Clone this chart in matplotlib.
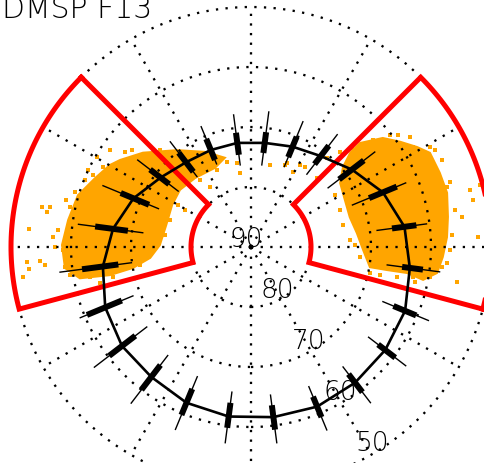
import numpy as np
import matplotlib
matplotlib.use("Agg")
import matplotlib.pyplot as plt

# magnetic local time of each hourly bin and the oval boundary latitude
mlt = [0.5, 1.5, 2.5, 3.5, 4.5, 5.5, 6.5, 7.5, 8.5, 9.5, 10.5, 11.5,
       12.5, 13.5, 14.5, 15.5, 16.5, 17.5, 18.5, 19.5, 20.5, 21.5, 22.5, 23.5]
lat_mean = [61.4, 61.2, 61.5, 61.8, 62.2, 63.3, 64.2, 66.2, 68.8, 70.9, 71.9, 72.5,
            72.5, 72.5, 72.2, 71.0, 68.8, 66.8, 65.1, 63.7, 62.9, 62.7, 61.9, 61.5]
# thick bar (inner spread) and thin whisker (full spread), low/high latitude
lat_box_lo = [59.3, 59.3, 59.5, 59.7, 60.2, 61.1, 62.2, 63.7, 66.3, 68.7, 70.1, 70.7,
              70.8, 70.5, 70.2, 68.8, 66.5, 63.8, 61.6, 60.4, 60.2, 60.0, 59.7, 59.6]
lat_box_hi = [63.4, 63.0, 63.3, 63.3, 64.3, 64.6, 66.3, 68.7, 71.5, 72.6, 73.8, 74.2,
              74.5, 74.3, 74.2, 72.8, 71.6, 69.3, 67.7, 66.7, 65.7, 65.2, 64.4, 63.8]
lat_wsk_lo = [57.1, 57.0, 57.3, 57.5, 58.0, 58.3, 60.5, 62.1, 64.0, 66.4, 67.4, 67.3,
              67.8, 68.3, 67.9, 66.2, 63.3, 61.0, 57.9, 59.2, 57.1, 57.2, 57.1, 57.1]
lat_wsk_hi = [65.1, 64.8, 64.8, 65.3, 66.2, 67.1, 68.8, 71.7, 73.8, 74.7, 75.5, 76.2,
              76.2, 75.0, 75.2, 74.7, 73.3, 71.8, 69.9, 68.7, 68.1, 67.2, 66.6, 65.6]

# selection sectors (MLT start, MLT end), latitude range
sectors = [(15.0, 19.0), (5.0, 9.0)]
sector_lat = (50.0, 80.0)

# dense part of the dusk and dawn observation clouds (MLT, lat)
dusk_core_mlt = [15.76, 15.26, 14.49, 13.72, 13.09, 13.63, 14.60, 15.41, 16.13, 17.03, 17.92,
                 18.41, 18.67, 18.75, 18.69, 18.43, 17.96, 17.44, 16.89, 16.41, 15.99]
dusk_core_lat = [63.8, 66.1, 69.7, 72.4, 74.5, 75.5, 75.2, 74.8, 75.1, 75.4, 74.8,
                 73.1, 70.0, 66.0, 61.0, 58.8, 58.5, 59.2, 59.9, 61.6, 62.8]
dawn_core_mlt = [8.91, 8.64, 8.35, 8.07, 7.85, 7.43, 7.03, 6.58, 6.19, 5.80, 5.47,
                 5.28, 5.37, 5.36, 5.36, 5.90, 6.50, 7.12, 7.77, 8.38, 8.73, 8.90]
dawn_core_lat = [64.9, 61.5, 59.6, 57.7, 56.3, 56.2, 56.1, 56.8, 57.3, 58.0, 58.7,
                 60.8, 63.6, 67.0, 69.9, 71.3, 72.2, 72.8, 72.5, 71.7, 69.7, 67.2]

# scattered observations outside the dense parts
dusk_pts_mlt = [17.28, 17.35, 17.69, 18.26, 18.38, 18.50, 18.25, 18.33, 17.81, 18.00, 17.25,
                15.70, 15.98, 16.11, 12.57, 13.05, 13.59, 14.49, 14.29, 15.39, 16.37, 16.53,
                16.84, 17.17, 18.06, 18.41, 18.70, 18.82, 17.58, 16.77, 16.01, 16.05, 12.63,
                17.66, 17.05, 16.31, 15.53, 14.88, 18.59, 18.89, 18.61, 17.47, 15.71]
dusk_pts_lat = [54.5, 55.5, 52.9, 52.6, 52.8, 51.7, 54.8, 55.5, 57.0, 57.3, 55.8,
                61.5, 60.3, 62.0, 77.5, 75.3, 76.0, 76.0, 77.9, 64.4, 61.1, 60.2,
                59.3, 59.1, 58.7, 58.8, 62.7, 66.5, 74.7, 75.8, 76.0, 77.4, 75.8,
                57.7, 58.2, 60.0, 63.7, 67.8, 59.5, 64.1, 71.3, 75.5, 74.7]
dawn_pts_mlt = [11.13, 10.45, 10.05, 9.94, 9.09, 7.51, 6.90, 6.27, 5.65, 5.18, 5.23, 5.37,
                5.60, 5.94, 7.13, 7.63, 7.95, 8.31, 8.59, 8.75, 9.13, 9.30, 7.01, 6.80,
                6.54, 6.97, 7.20, 8.11, 10.50, 9.73, 6.17, 5.36, 5.69, 5.30,
                8.12, 8.96, 6.69, 6.23, 5.20, 5.19, 6.07, 7.85, 8.49]
dawn_pts_lat = [76.0, 74.8, 75.7, 74.1, 74.1, 73.9, 74.2, 73.5, 71.8, 69.7, 65.2, 59.8,
                58.0, 56.8, 55.8, 55.0, 55.8, 57.8, 60.3, 62.9, 68.3, 70.5, 50.5, 52.2,
                54.5, 52.3, 55.1, 58.3, 75.2, 73.9, 52.1, 55.2, 57.2, 62.5,
                73.5, 66.4, 55.4, 56.4, 62.1, 68.0, 72.7, 55.3, 59.2]

grid_lats = [80, 70, 60, 50]
label_lats = [90, 80, 70, 60, 50]


def to_xy(t, lat):
    # noon at top, dawn at right, colatitude as radius
    t = np.asarray(t, dtype=float)
    r = 90.0 - np.asarray(lat, dtype=float)
    ang = np.radians((t - 6.0) * 15.0)
    return r * np.cos(ang), r * np.sin(ang)


orange = "#ffa500"
fig = plt.figure(figsize=(4.85, 4.63), dpi=100)
ax = fig.add_axes([0, 0, 1, 1])
ax.set_xlim(-251 / 6, 234 / 6)
ax.set_ylim(-216 / 6, 247 / 6)
ax.axis("off")

# observation clouds
for cm, cl in [(dusk_core_mlt, dusk_core_lat), (dawn_core_mlt, dawn_core_lat)]:
    x, y = to_xy(cm, cl)
    ax.fill(x, y, color=orange, lw=1.5, ec=orange, zorder=1)
for pm, pl in [(dusk_pts_mlt, dusk_pts_lat), (dawn_pts_mlt, dawn_pts_lat)]:
    x, y = to_xy(pm, pl)
    ax.plot(x, y, "s", color=orange, ms=2.4, mew=0, zorder=1)

# dotted latitude circles and MLT meridians
dots = dict(color="black", lw=1.65, ls=(0, (1, 3.2)), zorder=2)
tt = np.linspace(0, 24, 400)
for gl in grid_lats:
    x, y = to_xy(tt, np.full_like(tt, gl))
    ax.plot(x, y, **dots)
for h in range(0, 24, 2):
    x, y = to_xy([h, h], [90, 50])
    ax.plot(x, y, **dots)

# red sectors
for t0, t1 in sectors:
    arc = np.linspace(t0, t1, 60)
    sx = np.concatenate([arc, arc[::-1], [t0]])
    sy = np.concatenate([np.full(60, sector_lat[0]), np.full(60, sector_lat[1]), [sector_lat[0]]])
    x, y = to_xy(sx, sy)
    ax.plot(x, y, color="red", lw=3.6, solid_joinstyle="miter", zorder=3)

# oval boundary with spread bars
x, y = to_xy(mlt + mlt[:1], lat_mean + lat_mean[:1])
ax.plot(x, y, color="black", lw=1.9, zorder=4)
for i, t in enumerate(mlt):
    x, y = to_xy([t, t], [lat_wsk_lo[i], lat_wsk_hi[i]])
    ax.plot(x, y, color="black", lw=1.0, zorder=4)
    x, y = to_xy([t, t], [lat_box_lo[i], lat_box_hi[i]])
    ax.plot(x, y, color="black", lw=4.3, solid_capstyle="butt", zorder=4)

# latitude labels along a meridian
lab_ang = np.radians(-58.5)
for ll in label_lats:
    r = 90 - ll - 1.5
    ax.text(r * np.cos(lab_ang), r * np.sin(lab_ang), str(ll), ha="center", va="center",
            fontsize=19, fontweight="light", zorder=5)

fig.text(0.004, 0.961, "DMSP F13", fontsize=21.5, fontweight="light", ha="left", va="baseline")

fig.savefig("out.png", dpi=100)
